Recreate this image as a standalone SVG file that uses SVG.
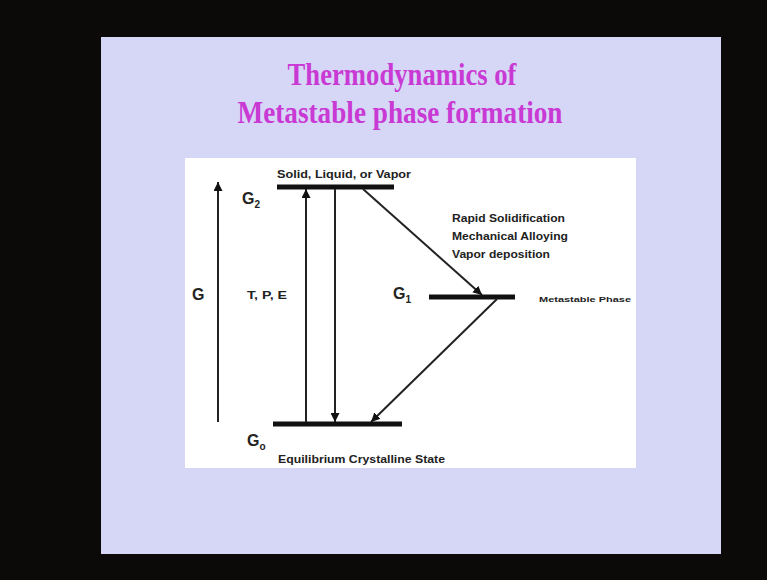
<svg xmlns="http://www.w3.org/2000/svg" width="767" height="580" viewBox="0 0 767 580">
  <defs>
    <marker id="ah" viewBox="0 0 10 10" refX="10" refY="5" markerWidth="9" markerHeight="9" markerUnits="userSpaceOnUse" orient="auto">
      <path d="M0,0 L10,5 L0,10 Z" fill="#111"/>
    </marker>
    <style>
      .title { font-family: "Liberation Serif", "Times New Roman", serif; font-size: 32px; font-weight: bold; fill: #c93ad4; }
      .lbl { font-family: "Liberation Sans", Arial, sans-serif; font-weight: bold; fill: #222; }
      .g { font-size: 16px; }
      .sub { font-size: 10px; }
      .small { font-size: 10px; }
      .bar { stroke: #111; stroke-width: 5; }
      .conn { stroke: #222; stroke-width: 2; fill: none; }
    </style>
  </defs>
  <rect x="0" y="0" width="767" height="580" fill="#0b0a08"/>
  <rect x="101" y="37" width="620" height="517" fill="#d6d7f7"/>
  <text class="title" x="402" y="85" text-anchor="middle" textLength="229" lengthAdjust="spacingAndGlyphs">Thermodynamics of</text>
  <text class="title" x="400" y="123" text-anchor="middle" textLength="325" lengthAdjust="spacingAndGlyphs">Metastable phase formation</text>
  <rect x="185" y="158" width="451" height="310" fill="#ffffff"/>

  <g id="axis-label">
    <text class="lbl g" x="192" y="300">G</text>
  </g>
  <g id="tpe-label">
    <text class="lbl small" x="247" y="299" textLength="40" lengthAdjust="spacingAndGlyphs">T, P, E</text>
  </g>
  <g id="G2">
    <line class="bar" x1="277" y1="187" x2="394" y2="187"/>
    <text class="lbl small" x="277" y="178" textLength="134" lengthAdjust="spacingAndGlyphs">Solid, Liquid, or Vapor</text>
    <text class="lbl g" x="242" y="204">G<tspan class="sub" dy="4">2</tspan></text>
  </g>
  <g id="G1">
    <line class="bar" x1="429" y1="297" x2="515" y2="297"/>
    <text class="lbl g" x="393" y="299">G<tspan class="sub" dy="4">1</tspan></text>
    <text class="lbl" x="539" y="302" font-size="8" textLength="92" lengthAdjust="spacingAndGlyphs">Metastable Phase</text>
  </g>
  <g id="G0">
    <line class="bar" x1="273" y1="424" x2="402" y2="424"/>
    <text class="lbl g" x="247" y="446">G<tspan class="sub" dy="4">o</tspan></text>
    <text class="lbl small" x="278" y="463" textLength="167" lengthAdjust="spacingAndGlyphs">Equilibrium Crystalline State</text>
  </g>
  <g id="processes">
    <text class="lbl small" x="452" y="222" textLength="113" lengthAdjust="spacingAndGlyphs">Rapid Solidification</text>
    <text class="lbl small" x="452" y="240" textLength="116" lengthAdjust="spacingAndGlyphs">Mechanical Alloying</text>
    <text class="lbl small" x="452" y="258" textLength="98" lengthAdjust="spacingAndGlyphs">Vapor deposition</text>
  </g>

  <g id="connectors">
    <line class="conn" x1="218" y1="422" x2="218" y2="182" stroke-width="2.5" marker-end="url(#ah)"/>
    <line class="conn" x1="306" y1="422" x2="306" y2="189" marker-end="url(#ah)"/>
    <line class="conn" x1="335" y1="189" x2="335" y2="422" marker-end="url(#ah)"/>
    <line class="conn" x1="363" y1="189" x2="482" y2="295" marker-end="url(#ah)"/>
    <line class="conn" x1="497" y1="299" x2="371" y2="422" marker-end="url(#ah)"/>
  </g>
</svg>
